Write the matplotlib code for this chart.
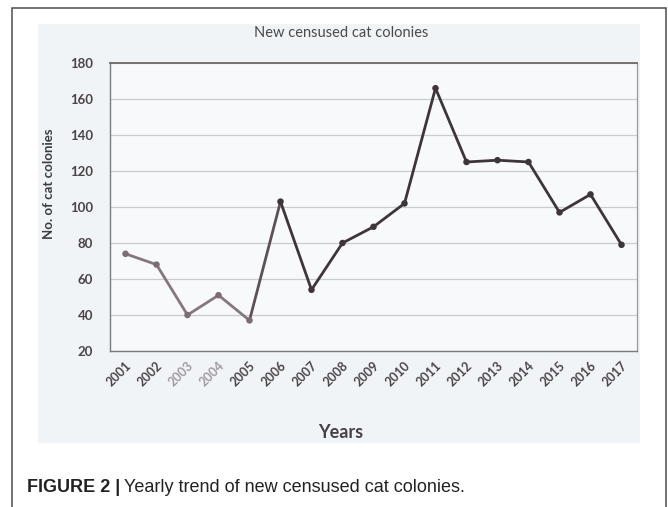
import matplotlib
matplotlib.use("Agg")
import matplotlib.pyplot as plt
from matplotlib.patches import Rectangle

# Data
years = [str(y) for y in range(2001, 2018)]
colonies = [74, 68, 40, 51, 37, 103, 54, 80, 89, 102, 166, 125, 126, 125, 97, 107, 79]
y_ticks = [20, 40, 60, 80, 100, 120, 140, 160, 180]

W, H = 668, 507
fig = plt.figure(figsize=(W / 100, H / 100), dpi=100)
fig.patch.set_facecolor('white')

def px(x0, y0, x1, y1):
    # pixel box (top-left origin) -> figure fraction [l, b, w, h]
    return [x0 / W, 1 - y1 / H, (x1 - x0) / W, (y1 - y0) / H]

# outer frame of the figure panel
fig.add_artist(Rectangle((12 / W, -0.01), (666 - 12) / W, 1 - 8 / H + 0.01,
                         transform=fig.transFigure, fill=False,
                         edgecolor='#4d4d4d', linewidth=1.1))
# grey background of the scanned chart
fig.add_artist(Rectangle((38 / W, 1 - 443 / H), (640 - 38) / W, (443 - 24) / H,
                         transform=fig.transFigure, facecolor='#f1f4f7',
                         edgecolor='none', zorder=0))

ax = fig.add_axes(px(110, 63, 637, 351))
ax.set_facecolor('#f7f9fb')
x = list(range(len(years)))

# scan is faded on the left part, darker on the right
seg_colors = ['#86767f'] * 4 + ['#5e5058'] + ['#3e3539'] * 11
for i in range(len(x) - 1):
    ax.plot(x[i:i + 2], colonies[i:i + 2], color=seg_colors[i], linewidth=2.0,
            solid_capstyle='round', zorder=3)
pt_colors = ['#7c6c76'] * 5 + ['#3e3539'] * 12
ax.scatter(x, colonies, s=22, c=pt_colors, zorder=4, linewidths=0)

ax.set_xlim(-0.5, len(x) - 0.5)
ax.set_ylim(20, 180)
ax.set_yticks(y_ticks)
ax.set_xticks(x)
ax.set_xticklabels(years, rotation=45, ha='right', rotation_mode='anchor',
                   fontsize=9, fontweight='bold', family='Lato')
for lab, yr in zip(ax.get_xticklabels(), years):
    lab.set_color('#a09aa0' if yr in ('2003', '2004') else '#4a4448')
ax.set_yticklabels([str(v) for v in y_ticks], fontsize=9.5, fontweight='bold',
                   family='Lato', color='#4a4448')
ax.tick_params(axis='x', length=0, pad=6)
ax.tick_params(axis='y', length=0, pad=12)
ax.yaxis.grid(True, color='#c9ccd0', linewidth=0.9)
ax.set_axisbelow(True)
for side in ['left', 'bottom']:
    ax.spines[side].set_color('#7a7a7a')
    ax.spines[side].set_linewidth(1.0)
ax.spines['top'].set_color('#6a6a6a')
ax.spines['top'].set_linewidth(1.3)
ax.spines['right'].set_color('#9a9a9a')
ax.spines['right'].set_linewidth(0.9)

fig.text(341 / W, 1 - 33 / H, 'New censused cat colonies', ha='center', va='center',
         fontsize=10.5, family='Lato', color='#4a4a4a')
fig.text(49 / W, 1 - 184 / H, 'No. of cat colonies', rotation=90, ha='center',
         va='center', fontsize=9.5, fontweight='bold', family='Lato', color='#3c3c3c')
fig.text(341 / W, 1 - 432 / H, 'Years', ha='center', va='center', fontsize=13,
         fontweight='bold', family='Lato', color='#454045')

# caption
cap_font = ['Liberation Sans', 'DejaVu Sans']
t1 = fig.text(27 / W, 1 - 487 / H, 'FIGURE 2 |', ha='left', va='center',
              fontsize=13, fontweight='bold', family=cap_font, color='#222222')
fig.canvas.draw()
bb = t1.get_window_extent()
fig.text((bb.x1 + 4) / W, 1 - 487 / H, 'Yearly trend of new censused cat colonies.',
         ha='left', va='center', fontsize=13, family=cap_font, color='#222222')

fig.savefig('out.png', dpi=100)
